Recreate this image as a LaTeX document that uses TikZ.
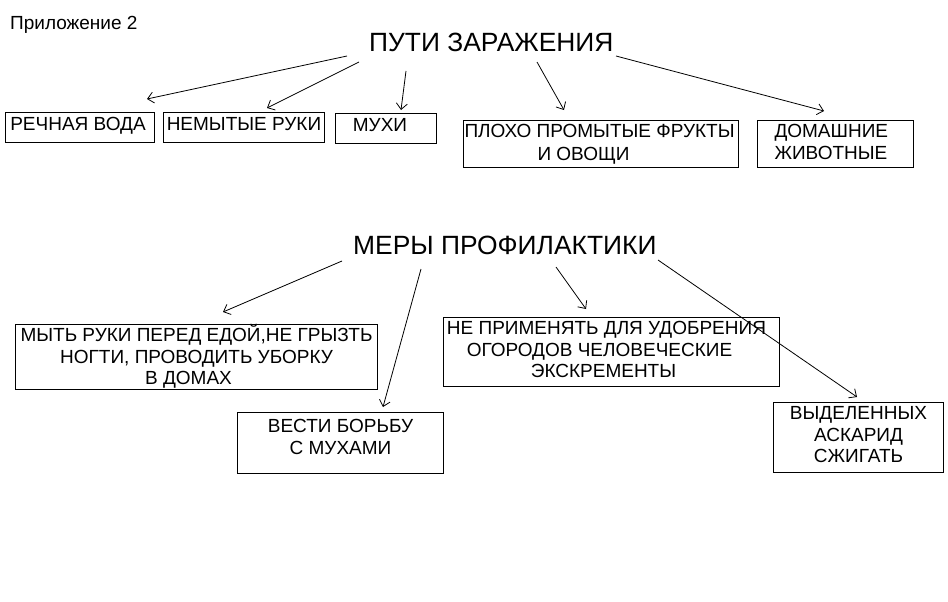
\documentclass[tikz,border=0pt]{standalone}
\usepackage{fontspec}
\setmainfont{Liberation Sans}
\usetikzlibrary{arrows.meta}
\tikzstyle{box}=[draw,line width=1pt,inner sep=0pt,anchor=north west]
\tikzstyle{title}=[inner sep=0pt,anchor=base west,font=\fontsize{26.4}{30}\selectfont]
\tikzstyle{arrow}=[draw,line width=0.8pt,-{Straight Barb[length=6pt,width=11pt]}]
\newcommand{\boxfont}{\fontsize{19}{21.5}\selectfont}
\newcommand{\boxtxt}[5][\centering]{%
  \parbox[c][#3][t]{#2}{\boxfont\lineskiplimit=-20pt #1\rule{0pt}{#4}#5}}

\begin{document}
\begin{tikzpicture}[x=1pt,y=-1pt]
  \useasboundingbox (0,0) rectangle (948,602);
  \node[inner sep=0pt,anchor=base west,font=\fontsize{19}{21}\selectfont] (pril) at (10,29.5) {Приложение 2};
  % пути заражения
  \node[title] (puti) at (369,52) {ПУТИ ЗАРАЖЕНИЯ};
  \node[box] (voda) at (5,112) {\boxtxt{149pt}{30pt}{18pt}{РЕЧНАЯ ВОДА\kern4pt}};
  \node[box] (ruki) at (163,112) {\boxtxt{161pt}{30pt}{18pt}{НЕМЫТЫЕ РУКИ}};
  \node[box] (muhi) at (335,113) {\boxtxt{101pt}{30pt}{18pt}{МУХИ\kern12pt}};
  \node[box] (frukty) at (463,120) {\boxtxt[\raggedright]{275pt}{47pt}{17pt}{\hspace*{1pt}\mbox{ПЛОХО ПРОМЫТЫЕ ФРУКТЫ}\\[1pt]
    \hspace*{74pt}И ОВОЩИ}};
  \node[box] (zhivotnye) at (757,120) {\boxtxt[\raggedright]{156pt}{47pt}{16.5pt}{\hspace*{17pt}ДОМАШНИЕ\\[1pt]
    \hspace*{17pt}ЖИВОТНЫЕ}};
  % меры профилактики
  \node[title] (mery) at (353,254) {МЕРЫ ПРОФИЛАКТИКИ};
  \node[box] (myt) at (15,324) {\boxtxt{362pt}{65pt}{17pt}{\mbox{МЫТЬ РУКИ ПЕРЕД ЕДОЙ,НЕ ГРЫЗТЬ}\\
    НОГТИ, ПРОВОДИТЬ УБОРКУ\\ В ДОМАХ\kern16pt}};
  \node[box] (vesti) at (237,412) {\boxtxt{206pt}{61pt}{20pt}{ВЕСТИ БОРЬБУ\\ С МУХАМИ}};
  \node[box] (udobr) at (443,317) {\boxtxt{336pt}{69pt}{17pt}{\mbox{НЕ ПРИМЕНЯТЬ ДЛЯ УДОБРЕНИЯ}\kern10pt\\
    ОГОРОДОВ ЧЕЛОВЕЧЕСКИЕ\kern24pt\\ ЭКСКРЕМЕНТЫ\kern16pt}};
  \node[box] (askarid) at (773,402) {\boxtxt{170pt}{70pt}{17pt}{ВЫДЕЛЕННЫХ\\ АСКАРИД\\ СЖИГАТЬ}};
  % arrows
  \foreach \name/\x/\y in {p1/347/56, p2/359/62, p3/406/71, p4/537/62, p5/616/56,
      q1/342/261, q2/421/269, q3/556/267, q4/658/260}
    \coordinate (\name) at (\x,\y);
  \foreach \name/\x/\y in {t1/147/99, t2/267/108, t3/401/110, t4/564/110, t5/824/111,
      s1/223/312, s2/383/407, s3/586/309, s4/857/397}
    \coordinate (\name) at (\x,\y);
  \foreach \source/\dest in {p1/t1, p2/t2, p3/t3, p4/t4, p5/t5, q1/s1, q2/s2, q3/s3, q4/s4}
    \path[arrow] (\source) -- (\dest);
\end{tikzpicture}
\end{document}
